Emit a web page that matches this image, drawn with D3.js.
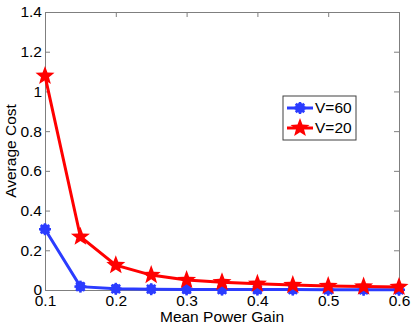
<!DOCTYPE html>
<html>
<head>
<meta charset="utf-8">
<script src="https://cdn.jsdelivr.net/npm/d3@7"></script>
<style>
  body { margin: 0; background: #fff; }
  text { font-family: "Liberation Sans", Arial, sans-serif; fill: #000; }
</style>
</head>
<body>
<div id="chart"></div>
<script>
// data
var gain = [0.1, 0.15, 0.2, 0.25, 0.3, 0.35, 0.4, 0.45, 0.5, 0.55, 0.6];
var costV60 = [0.306, 0.017, 0.006, 0.004, 0.003, 0.002, 0.002, 0.002, 0.001, 0.001, 0.001];
var costV20 = [1.078, 0.268, 0.125, 0.075, 0.05, 0.039, 0.031, 0.025, 0.02, 0.017, 0.015];
var xTicks = [0.1, 0.2, 0.3, 0.4, 0.5, 0.6];
var yTicks = [0, 0.2, 0.4, 0.6, 0.8, 1, 1.2, 1.4];

var W = 415, H = 327;
var margin = { top: 12, right: 16, bottom: 37, left: 45 };
var width = W - margin.left - margin.right;
var height = H - margin.top - margin.bottom;
var fs = "15.5px";

var svg = d3.select("#chart").append("svg")
    .attr("width", W).attr("height", H);
var g = svg.append("g")
    .attr("transform", "translate(" + margin.left + "," + margin.top + ")");

var x = d3.scaleLinear().domain([0.1, 0.6]).range([0, width]);
var y = d3.scaleLinear().domain([0, 1.4]).range([height, 0]);

var axisColor = "#7f7f7f";

// axes with inward ticks
var xAxis = g.append("g").attr("transform", "translate(0," + height + ")")
    .call(d3.axisBottom(x).tickValues(xTicks).tickSize(-5).tickPadding(7).tickFormat(d3.format("")));
var xTop = g.append("g")
    .call(d3.axisTop(x).tickValues(xTicks).tickSize(-5).tickFormat(""));
var yAxis = g.append("g")
    .call(d3.axisLeft(y).tickValues(yTicks).tickSize(-5).tickPadding(3).tickFormat(d3.format("")));
var yRight = g.append("g").attr("transform", "translate(" + width + ",0)")
    .call(d3.axisRight(y).tickValues(yTicks).tickSize(-5).tickFormat(""));

[xAxis, xTop, yAxis, yRight].forEach(function (a) {
    a.select(".domain").attr("stroke", axisColor);
    a.selectAll(".tick line").attr("stroke", axisColor);
    a.selectAll(".tick text").style("font-size", fs).attr("fill", "#000");
});
xAxis.selectAll(".tick text").attr("dy", "0.55em");

// axis titles
svg.append("text")
    .attr("x", margin.left + width / 2).attr("y", 322)
    .attr("text-anchor", "middle").style("font-size", fs)
    .text("Mean Power Gain");
svg.append("text")
    .attr("transform", "translate(16," + (margin.top + height / 2) + ") rotate(-90)")
    .attr("text-anchor", "middle").style("font-size", fs)
    .text("Average Cost");

var blue = "#2b3cff", red = "#ff0000";

function starPath(cx, cy, R, r) {
    var pts = [];
    for (var i = 0; i < 10; i++) {
        var a = -Math.PI / 2 + i * Math.PI / 5;
        var rr = i % 2 == 0 ? R : r;
        pts.push([cx + rr * Math.cos(a), cy + rr * Math.sin(a)]);
    }
    return "M" + pts.map(function (p) { return p.join(","); }).join("L") + "Z";
}

function drawBlueMarker(sel, cx, cy) {
    sel.append("circle").attr("cx", cx).attr("cy", cy).attr("r", 5).attr("fill", blue);
    for (var i = 0; i < 4; i++) {
        var a = i * Math.PI / 4;
        sel.append("line")
            .attr("x1", cx - 6 * Math.cos(a)).attr("y1", cy - 6 * Math.sin(a))
            .attr("x2", cx + 6 * Math.cos(a)).attr("y2", cy + 6 * Math.sin(a))
            .attr("stroke", blue).attr("stroke-width", 2.5);
    }
}

var line = d3.line()
    .x(function (d) { return x(d[0]); })
    .y(function (d) { return y(d[1]); });

var dataV60 = gain.map(function (d, i) { return [d, costV60[i]]; });
var dataV20 = gain.map(function (d, i) { return [d, costV20[i]]; });

g.append("path").datum(dataV60)
    .attr("fill", "none").attr("stroke", blue).attr("stroke-width", 3)
    .attr("d", line);
dataV60.forEach(function (d) { drawBlueMarker(g, x(d[0]), y(d[1])); });

g.append("path").datum(dataV20)
    .attr("fill", "none").attr("stroke", red).attr("stroke-width", 3)
    .attr("d", line);
dataV20.forEach(function (d) {
    g.append("path").attr("d", starPath(x(d[0]), y(d[1]), 10, 4.2)).attr("fill", red);
});

// legend
var lg = svg.append("g").attr("transform", "translate(283,96)");
lg.append("rect").attr("width", 73).attr("height", 44)
    .attr("fill", "#fff").attr("stroke", "#404040").attr("stroke-width", 1);
lg.append("line").attr("x1", 4).attr("x2", 30).attr("y1", 12).attr("y2", 12)
    .attr("stroke", blue).attr("stroke-width", 3);
drawBlueMarker(lg, 17, 12);
lg.append("text").attr("x", 32).attr("y", 17).style("font-size", fs).text("V=60");
lg.append("line").attr("x1", 4).attr("x2", 30).attr("y1", 32).attr("y2", 32)
    .attr("stroke", red).attr("stroke-width", 3);
lg.append("path").attr("d", starPath(17, 32, 10, 4.2)).attr("fill", red);
lg.append("text").attr("x", 32).attr("y", 37).style("font-size", fs).text("V=20");
</script>
</body>
</html>
